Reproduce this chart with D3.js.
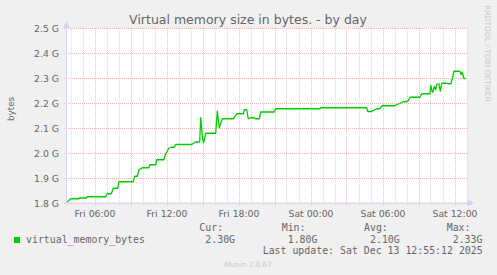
<!DOCTYPE html>
<html><head><meta charset="utf-8">
<script src="https://cdn.jsdelivr.net/npm/d3@7"></script>
<style>
html,body{margin:0;padding:0;background:#F0F0F0;}
svg{display:block;}
text{font-family:"DejaVu Sans",sans-serif;fill:#666;}
.mono{font-family:"DejaVu Sans Mono",monospace;}
</style></head>
<body>
<svg id="c" width="497" height="275"></svg>
<script>
const title = "Virtual memory size in bytes. - by day";
const yLabel = "bytes";
const seriesName = "virtual_memory_bytes";
const times = [
"2025-12-12 03:44","2025-12-12 04:01","2025-12-12 04:42","2025-12-12 04:45","2025-12-12 05:21","2025-12-12 05:24",
"2025-12-12 06:56","2025-12-12 07:04","2025-12-12 07:24","2025-12-12 07:34","2025-12-12 07:57","2025-12-12 08:02",
"2025-12-12 09:14","2025-12-12 09:21","2025-12-12 09:34","2025-12-12 09:42","2025-12-12 09:59","2025-12-12 10:32",
"2025-12-12 10:37","2025-12-12 11:06","2025-12-12 11:11","2025-12-12 11:47","2025-12-12 11:56","2025-12-12 12:12",
"2025-12-12 12:22","2025-12-12 12:39","2025-12-12 12:46","2025-12-12 14:06","2025-12-12 14:14","2025-12-12 14:26",
"2025-12-12 14:46","2025-12-12 14:51","2025-12-12 15:01","2025-12-12 15:06","2025-12-12 15:16","2025-12-12 16:06",
"2025-12-12 16:14","2025-12-12 16:24","2025-12-12 16:39","2025-12-12 17:34","2025-12-12 17:42","2025-12-12 17:51",
"2025-12-12 18:24","2025-12-12 18:29","2025-12-12 18:41","2025-12-12 18:49","2025-12-12 19:00","2025-12-12 19:19",
"2025-12-12 19:25","2025-12-12 19:44","2025-12-12 19:51","2025-12-12 20:59","2025-12-12 21:06",
"2025-12-13 00:47","2025-12-13 00:52","2025-12-13 04:41","2025-12-13 04:46","2025-12-13 05:06","2025-12-13 05:14",
"2025-12-13 05:31","2025-12-13 05:47","2025-12-13 05:56","2025-12-13 07:02","2025-12-13 07:11","2025-12-13 07:27",
"2025-12-13 07:44","2025-12-13 08:01","2025-12-13 08:10","2025-12-13 08:17","2025-12-13 09:07","2025-12-13 09:16",
"2025-12-13 09:57","2025-12-13 10:02","2025-12-13 10:07","2025-12-13 10:11","2025-12-13 10:19","2025-12-13 10:26",
"2025-12-13 10:31","2025-12-13 10:42","2025-12-13 10:49","2025-12-13 10:56","2025-12-13 11:21","2025-12-13 11:29",
"2025-12-13 11:42","2025-12-13 11:49","2025-12-13 11:57","2025-12-13 12:27","2025-12-13 12:32","2025-12-13 12:39",
"2025-12-13 12:47","2025-12-13 12:56"
];
const valuesG = [
1.806,1.819,1.819,1.822,1.822,1.827,
1.827,1.839,1.839,1.861,1.861,1.887,
1.887,1.909,1.909,1.935,1.943,1.943,
1.955,1.955,1.975,1.975,1.999,2.021,
2.025,2.025,2.036,2.036,2.041,2.046,
2.046,2.143,2.055,2.043,2.081,2.081,
2.169,2.103,2.139,2.139,2.148,2.159,
2.159,2.175,2.175,2.139,2.143,2.143,
2.139,2.139,2.166,2.166,2.179,
2.179,2.183,2.183,2.168,2.168,2.172,
2.179,2.179,2.191,2.191,2.196,2.200,
2.207,2.208,2.212,2.225,2.225,2.239,
2.239,2.272,2.250,2.245,2.268,2.255,
2.276,2.279,2.249,2.281,2.281,2.279,
2.279,2.299,2.329,2.329,2.316,2.325,
2.300,2.300
];
const yTicksG = [1.8,1.9,2.0,2.1,2.2,2.3,2.4,2.5];
const xLabelTimes = ["2025-12-12 06:00","2025-12-12 12:00","2025-12-12 18:00","2025-12-13 00:00","2025-12-13 06:00","2025-12-13 12:00"];
const statLabels = ["Cur:","Min:","Avg:","Max:"];
const statValues = ["2.30G","1.80G","2.10G","2.33G"];
const lastUpdate = "Last update: Sat Dec 13 12:55:12 2025";
const watermark = "RRDTOOL / TOBI OETIKER";
const footer = "Munin 2.0.67";

const parse = d3.timeParse("%Y-%m-%d %H:%M");
const parseS = d3.timeParse("%Y-%m-%d %H:%M:%S");
const data = times.map((t,i)=>({t:parse(t), v:valuesG[i]*1e9}));

const svg = d3.select("#c");
const L=67, R=467, T=28.5, B=203.5;
const x = d3.scaleTime().domain([parseS("2025-12-12 03:42:30"), parseS("2025-12-13 13:02:30")]).range([L,R]);
const y = d3.scaleLinear().domain([1.8e9,2.5e9]).range([B,T]);

// canvas
svg.append("rect").attr("x",L).attr("y",28).attr("width",R-L).attr("height",B-28).attr("fill","#fff");

const minorC = "#d6d6d6", majorC = "#f0b8b8";
const hours = d3.timeHour.every(1).range(x.domain()[0], x.domain()[1]);
const minor = hours.filter(d=>d.getHours()%3!==0);
const major = hours.filter(d=>d.getHours()%3===0);
const g = svg.append("g");
g.selectAll(".mv").data(minor).enter().append("line")
 .attr("x1",d=>Math.round(x(d))+0.5).attr("x2",d=>Math.round(x(d))+0.5)
 .attr("y1",28).attr("y2",B+2.5)
 .attr("stroke",minorC).attr("stroke-dasharray","1,1");
g.selectAll(".mh").data(major).enter().append("line")
 .attr("x1",d=>Math.round(x(d))+0.5).attr("x2",d=>Math.round(x(d))+0.5)
 .attr("y1",28).attr("y2",B+2.5)
 .attr("stroke",majorC).attr("stroke-dasharray","1,1");
g.selectAll(".hg").data(yTicksG.map(v=>v*1e9)).enter().append("line")
 .attr("x1",L-3).attr("x2",R+1)
 .attr("y1",d=>y(d)).attr("y2",d=>y(d))
 .attr("stroke",majorC).attr("stroke-dasharray","1,1");

// axes
const yAxis = d3.axisLeft(y).tickValues(yTicksG.map(v=>v*1e9)).tickSize(0).tickPadding(8)
  .tickFormat(d=>(d/1e9).toFixed(1)+" G");
const ya = svg.append("g").attr("transform",`translate(${L},0)`).call(yAxis);
ya.select(".domain").remove();
ya.selectAll("text").attr("font-size","9.3px").attr("font-family","DejaVu Sans").attr("fill","#666").attr("dy","0.35em");

const xAxis = d3.axisBottom(x).tickValues(xLabelTimes.map(parse)).tickSize(0).tickPadding(5)
  .tickFormat(d3.timeFormat("%a %H:%M"));
const xa = svg.append("g").attr("transform",`translate(0,${B})`).call(xAxis);
xa.select(".domain").remove();
xa.selectAll("text").attr("font-size","9.3px").attr("font-family","DejaVu Sans").attr("fill","#666").attr("dy","0.9em");

// axis lines and arrows
const ac = "#CFD6F8";
svg.append("line").attr("x1",L-2).attr("x2",R+2).attr("y1",B-0.5).attr("y2",B-0.5).attr("stroke",ac);
svg.append("path").attr("d",`M${R+1},${B-4} L${R+7},${B-0.5} L${R+1},${B+3} Z`).attr("fill",ac);
svg.append("line").attr("x1",L-0.5).attr("x2",L-0.5).attr("y1",B+2).attr("y2",26).attr("stroke",ac);
svg.append("path").attr("d",`M${L-4},${28} L${L-0.5},${21} L${L+3},${28} Z`).attr("fill",ac);

// series
const line = d3.line().x(d=>x(d.t)).y(d=>y(d.v));
svg.append("path").datum(data).attr("d",line).attr("fill","none").attr("stroke","#00CC00").attr("stroke-width",1.3).attr("stroke-linejoin","round");

// title
svg.append("text").attr("x",248).attr("y",23.5).attr("text-anchor","middle").attr("font-size","12.5px").text(title);
// y label
svg.append("text").attr("transform","translate(13.5,109) rotate(-90)").attr("text-anchor","middle").attr("font-size","8.8px").text(yLabel);
// watermark
svg.append("text").attr("transform","translate(485,53.5) rotate(90)").attr("text-anchor","middle").attr("font-size","7.5px").style("fill","#c8c8c8").text(watermark);

// legend
svg.append("rect").attr("x",14).attr("y",237).attr("width",6).attr("height",6).attr("fill","#00CC00");
svg.append("text").attr("class","mono").attr("x",26).attr("y",242.5).attr("font-size","9.9px").text(seriesName);
const statX = [199.3,281.7,364,446.7];
statLabels.forEach((s,i)=>{
  svg.append("text").attr("class","mono").attr("x",statX[i]).attr("y",230.5).attr("font-size","9.9px").text(s);
  svg.append("text").attr("class","mono").attr("x",statX[i]+6).attr("y",242.5).attr("font-size","9.9px").text(statValues[i]);
});
svg.append("text").attr("class","mono").attr("x",482.7).attr("y",254).attr("text-anchor","end").attr("font-size","9.9px").text(lastUpdate);
svg.append("text").attr("x",248).attr("y",267).attr("text-anchor","middle").attr("font-size","7.3px").style("fill","#c8c8c8").text(footer);
</script>
</body></html>
